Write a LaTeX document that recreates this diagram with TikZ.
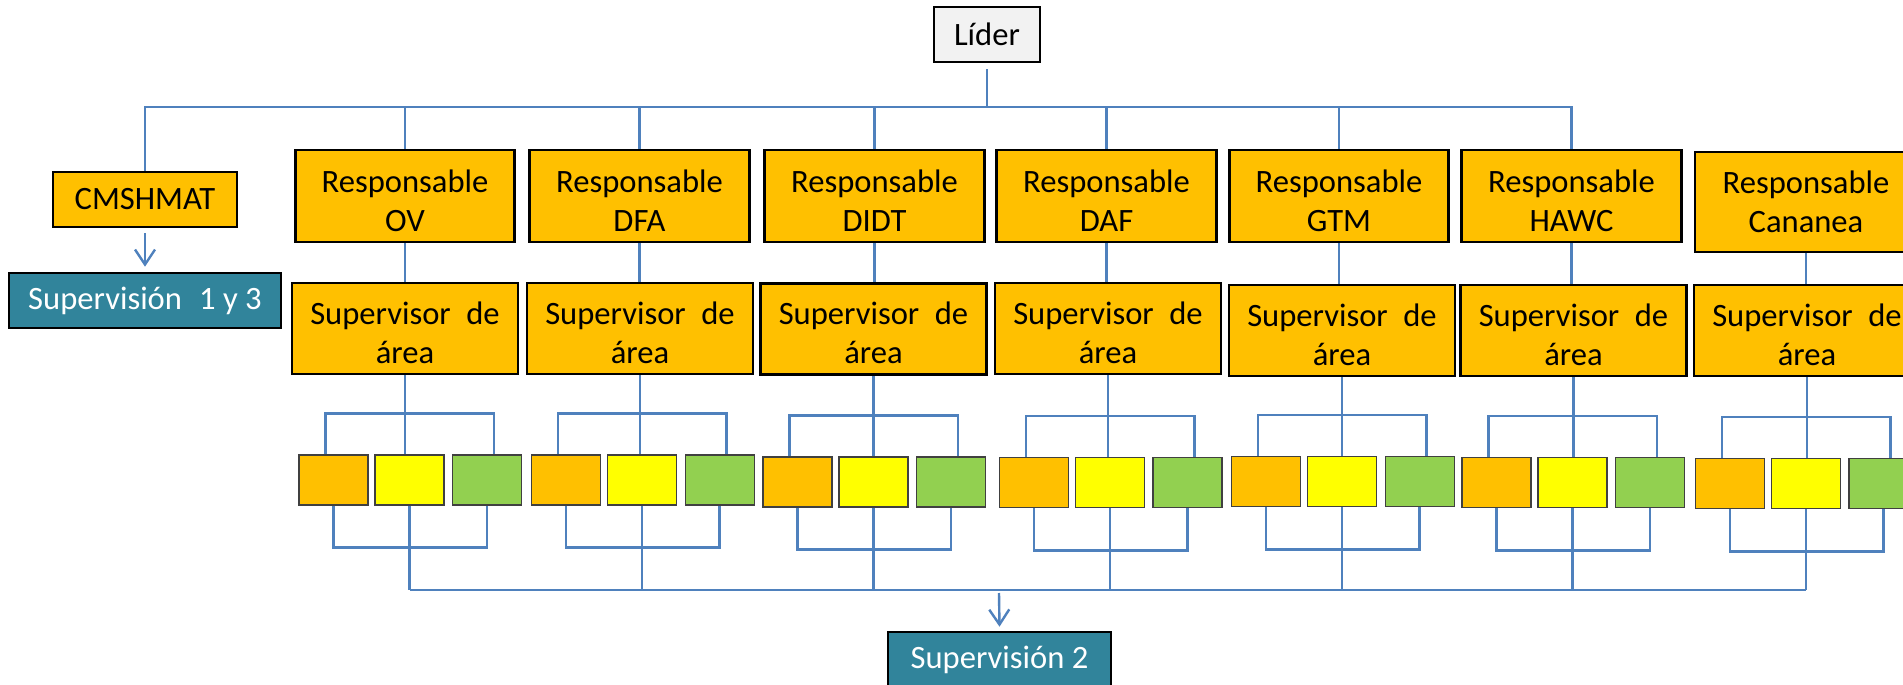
\documentclass[tikz,border=0pt]{standalone}
\usepackage{fontspec}
\setmainfont{Carlito}
\usetikzlibrary{arrows.meta}
\definecolor{gold}{HTML}{FFC000}
\definecolor{yel}{HTML}{FFFF00}
\definecolor{grn}{HTML}{92D050}
\definecolor{tealbox}{HTML}{31849B}
\definecolor{ln}{HTML}{4F81BD}
\definecolor{lgray}{HTML}{F2F2F2}
\definecolor{sqline}{HTML}{404040}
\newcommand\myup{\rule{0pt}{16pt}}
\newcommand\myupb{\rule{0pt}{15.5pt}}
\begin{document}
\begin{tikzpicture}[x=0.5pt,y=-0.5pt,
  every node/.style={font=\fontsize{16.3}{19.5}\selectfont, inner sep=0pt, align=center},
  resp/.style={draw=black, line width=1.3pt, fill=gold, minimum width=109.75pt, minimum height=46pt},
  supv/.style={draw=black, line width=1.3pt, fill=gold, minimum width=113pt, minimum height=45.5pt},
  tbox/.style={draw=black, line width=1.3pt, fill=tealbox, text=white, minimum height=27.5pt},
  sq/.style={draw=sqline, line width=0.6pt, minimum width=34.5pt, minimum height=25pt},
  conn/.style={draw=ln, line width=1.2pt},
  arr/.style={conn, -{Straight Barb[length=7.5pt,width=10pt]}}
]
\clip (0,0) rectangle (1903,685);
\fill[white] (0,0) rectangle (1903,685);

% top
\node[draw=black, line width=1.3pt, fill=lgray, minimum width=53pt, minimum height=27.5pt] (lider) at (987,34.5) {Líder};
\coordinate (bus) at (987,107);
\node[resp, minimum width=92pt, minimum height=27.5pt] (cms) at (145,199.5) {CMSHMAT};
\node[tbox, minimum width=136pt] (sup13) at (145,300.5) {Supervisión\hspace{0.3em} 1 y 3};

% responsables
\foreach \n/\x/\lab in {a/405/OV, b/639.5/DFA, c/874.5/DIDT, d/1106.5/DAF, e/1339/GTM, f/1571.5/HAWC}
  \node[resp] (r\n) at (\x,196) {\myup Responsable\\\lab};
\node[resp, minimum width=111pt, minimum height=50pt] (rg) at (1806,202) {Responsable\\Cananea};

% supervisores
\foreach \n/\x/\y in {a/405/328.5, b/640/328.5, c/873.5/329, d/1108/328.5, e/1342/330.5, f/1573.5/330.5, g/1807/330.5}
  \node[supv] (s\n) at (\x,\y) {\myupb Supervisor\hspace{0.25em} de\\área};

% squares
\foreach \n/\x/\y in {a/299/455, b/531.7/455, c/763/457, d/999.5/457.7, e/1231.7/456.7, f/1462/457.7, g/1695.6/458.7} {
  \node[sq, fill=gold] (o\n) at (\x+34.5,\y+25) {};
  \node[sq, fill=yel] (y\n) at (\x+110.5,\y+25) {};
  \node[sq, fill=grn] (g\n) at (\x+187.9,\y+25) {};
}

% bottom
\coordinate (busb) at (999,590);
\node[tbox, minimum width=111.5pt] (sup2) at (999.5,659.5) {Supervisión 2};

% connectors
\draw[conn] ([yshift=-3pt]lider.south) -- (bus);
\draw[conn] (cms.north) |- (rf.north |- bus) -- (rf.north);
\foreach \n in {a,b,c,d,e}
  \draw[conn] (r\n.north) -- (r\n.north |- bus);
\foreach \n in {a,b,c,d,e,f,g}
  \draw[conn] (r\n.south) -- (r\n.south |- s\n.north);
\draw[arr] ([yshift=-2.5pt]cms.south) -- ([yshift=2.5pt]sup13.north);

\foreach \n in {a,b,c,d,e,f,g} {
  \draw[conn] (s\n.south) -- (s\n.south |- y\n.north);
  \draw[conn] ([xshift=-4pt]o\n.north) -- ++(0,-41) -| ([xshift=3.5pt]g\n.north);
  \draw[conn] (o\n.south) -- ++(0,42) -| (g\n.south);
  \draw[conn] (y\n.south) -- (y\n.south |- busb);
}
\draw[conn] (ya.south |- busb) -- (yg.south |- busb);
\draw[arr] ([yshift=-1.5pt]busb) -- ([yshift=2pt]sup2.north);
\end{tikzpicture}
\end{document}
